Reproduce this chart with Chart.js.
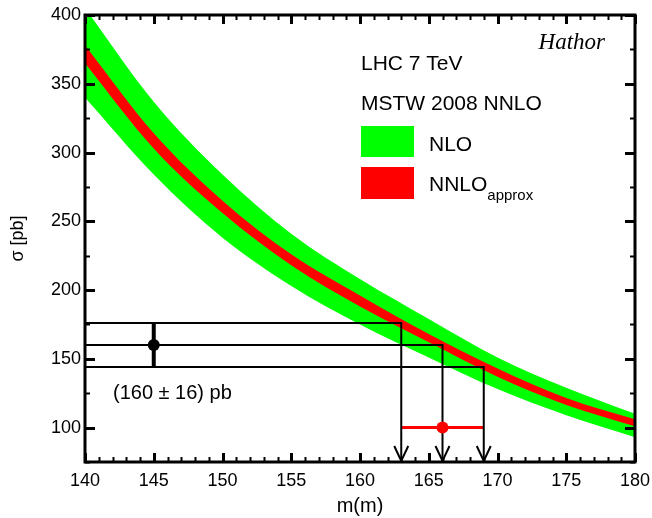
<!DOCTYPE html>
<html>
<head>
<meta charset="utf-8">
<script src="https://cdn.jsdelivr.net/npm/chart.js@4.4.1/dist/chart.umd.min.js"></script>
<style>
html, body { margin: 0; padding: 0; background: #fff; }
</style>
</head>
<body>
<canvas id="chart" width="652" height="518"></canvas>
<script>
// cross section vs mass
const mass = [140, 145, 150, 155, 160, 165, 170, 175, 180]
const nloUp = [405, 337, 284, 241, 208, 179, 151, 129, 110]
const nloDown = [340, 284, 238, 203, 175, 151, 128, 109, 93]
const nnloUp = [378, 314, 265, 226, 196, 168, 143, 121.5, 106]
const nnloDown = [365, 303, 256, 218, 188, 162, 137, 116.5, 101]

const xTicks = [140, 145, 150, 155, 160, 165, 170, 175, 180]
const yTicks = [100, 150, 200, 250, 300, 350, 400]

// measured cross section and the mass read back from the band
const measPos = 145
const measXsec = 160
const measErr = 16
const massLow = 163
const massCentral = 166
const massHigh = 169
const massMarkY = 100

const FONT = '"Liberation Sans", Arial, Helvetica, sans-serif'
const yMin = 75

function pts(ys) {
    return mass.map((m, i) => ({x: m, y: ys[i]}))
}

function band(ys, colour, target, order) {
    return {
        data: pts(ys),
        borderWidth: 0,
        pointRadius: 0,
        backgroundColor: colour,
        fill: target == null ? false : {target: target},
        cubicInterpolationMode: 'monotone',
        order: order
    }
}

function segLine(data, colour, width) {
    return {
        data: data,
        borderColor: colour,
        borderWidth: width,
        pointRadius: 0,
        tension: 0,
        fill: false,
        order: 1
    }
}

var datasets = [
    band(nloUp, '#00ff00', 1, 10),
    band(nloDown, '#00ff00', null, 10),
    band(nnloUp, '#ff0000', 3, 5),
    band(nnloDown, '#ff0000', null, 5),
    segLine([{x: 140, y: measXsec + measErr}, {x: massLow, y: measXsec + measErr}, {x: massLow, y: yMin}], '#000', 2),
    segLine([{x: 140, y: measXsec}, {x: massCentral, y: measXsec}, {x: massCentral, y: yMin}], '#000', 2),
    segLine([{x: 140, y: measXsec - measErr}, {x: massHigh, y: measXsec - measErr}, {x: massHigh, y: yMin}], '#000', 2),
    segLine([{x: measPos, y: measXsec - measErr}, {x: measPos, y: measXsec + measErr}], '#000', 4),
    segLine([{x: massLow, y: massMarkY}, {x: massHigh, y: massMarkY}], '#ff0000', 3),
    {
        data: [{x: measPos, y: measXsec}],
        showLine: false,
        pointRadius: 6,
        pointBackgroundColor: '#000',
        pointBorderWidth: 0,
        order: 0
    },
    {
        data: [{x: massCentral, y: massMarkY}],
        showLine: false,
        pointRadius: 6,
        pointBackgroundColor: '#ff0000',
        pointBorderWidth: 0,
        order: 0
    }
]

// frame, inward ticks, arrows and the text boxes
const decor = {
    id: 'decor',
    afterDraw(chart) {
        var ctx = chart.ctx
        var a = chart.chartArea
        var xs = chart.scales.x
        var ys = chart.scales.y
        ctx.save()
        ctx.strokeStyle = '#000'
        ctx.lineCap = 'butt'

        for (var m = 140; m <= 180; m++) {
            var px = Math.round(xs.getPixelForValue(m)) + 0.5
            var major = (m % 5 == 0)
            var len = major ? 9 : 5
            ctx.lineWidth = major ? 3 : 2
            ctx.beginPath()
            ctx.moveTo(px, a.bottom)
            ctx.lineTo(px, a.bottom - len)
            ctx.moveTo(px, a.top)
            ctx.lineTo(px, a.top + len)
            ctx.stroke()
        }
        for (var v = 75; v <= 400; v += 25) {
            var py = Math.round(ys.getPixelForValue(v)) + 0.5
            var majorY = (v % 50 == 0)
            var lenY = majorY ? 10 : 5
            ctx.lineWidth = majorY ? 3 : 2
            ctx.beginPath()
            ctx.moveTo(a.left, py)
            ctx.lineTo(a.left + lenY, py)
            ctx.moveTo(a.right, py)
            ctx.lineTo(a.right - lenY, py)
            ctx.stroke()
        }

        ctx.lineWidth = 3
        ctx.strokeRect(a.left, a.top, a.right - a.left, a.bottom - a.top)

        // open arrow heads at the bottom of the three drop lines
        ctx.lineWidth = 2
        for (let m of [massLow, massCentral, massHigh]) {
            var ax = xs.getPixelForValue(m)
            var ay = a.bottom - 1
            ctx.beginPath()
            ctx.moveTo(ax - 7, ay - 15)
            ctx.lineTo(ax, ay)
            ctx.lineTo(ax + 7, ay - 15)
            ctx.stroke()
        }

        ctx.fillStyle = '#000'
        ctx.textBaseline = 'middle'
        ctx.textAlign = 'right'
        ctx.font = 'italic 23px "Liberation Serif", "Times New Roman", serif'
        ctx.fillText('Hathor', 605, 43)

        ctx.textAlign = 'left'
        ctx.font = '21px ' + FONT
        ctx.fillText('LHC 7 TeV', 361, 64)
        ctx.fillText('MSTW 2008 NNLO', 361, 104)

        ctx.fillStyle = '#00ff00'
        ctx.fillRect(361, 126, 53, 31)
        ctx.fillStyle = '#ff0000'
        ctx.fillRect(361, 167, 53, 32)

        ctx.fillStyle = '#000'
        ctx.fillText('NLO', 429, 145)
        ctx.fillText('NNLO', 429, 185)
        var w = ctx.measureText('NNLO').width
        ctx.font = '15px ' + FONT
        ctx.fillText('approx', 429 + w, 196)

        ctx.font = '20px ' + FONT
        ctx.fillText('(160 \u00b1 16) pb', 113, 393)
        ctx.restore()
    }
}

new Chart(document.getElementById('chart'), {
    type: 'line',
    data: {datasets: datasets},
    options: {
        responsive: false,
        animation: false,
        devicePixelRatio: 1,
        layout: {padding: {left: 0, right: 17, top: 15, bottom: 0}},
        plugins: {
            legend: {display: false},
            tooltip: {enabled: false}
        },
        scales: {
            x: {
                type: 'linear',
                min: 140,
                max: 180,
                grid: {display: false, drawTicks: false},
                border: {display: false},
                afterBuildTicks: (s) => { s.ticks = xTicks.map(v => ({value: v})) },
                afterFit: (s) => {
                    s.height = 56
                    s.paddingLeft = 0
                    s.paddingRight = 0
                },
                ticks: {
                    color: '#000',
                    padding: 8,
                    maxRotation: 0,
                    font: {family: FONT, size: 18}
                },
                title: {
                    display: true,
                    text: 'm(m)',
                    color: '#000',
                    font: {family: FONT, size: 20},
                    padding: {top: 0, bottom: 0}
                }
            },
            y: {
                type: 'linear',
                min: yMin,
                max: 400,
                grid: {display: false, drawTicks: false},
                border: {display: false},
                afterBuildTicks: (s) => { s.ticks = yTicks.map(v => ({value: v})) },
                afterFit: (s) => {
                    s.width = 85
                    s.paddingTop = 0
                    s.paddingBottom = 0
                },
                ticks: {
                    color: '#000',
                    padding: 4,
                    font: {family: FONT, size: 18}
                },
                title: {
                    display: true,
                    text: 'σ [pb]',
                    color: '#000',
                    font: {family: FONT, size: 18},
                    padding: {top: 7, bottom: 0}
                }
            }
        }
    },
    plugins: [decor]
})
</script>
</body>
</html>
